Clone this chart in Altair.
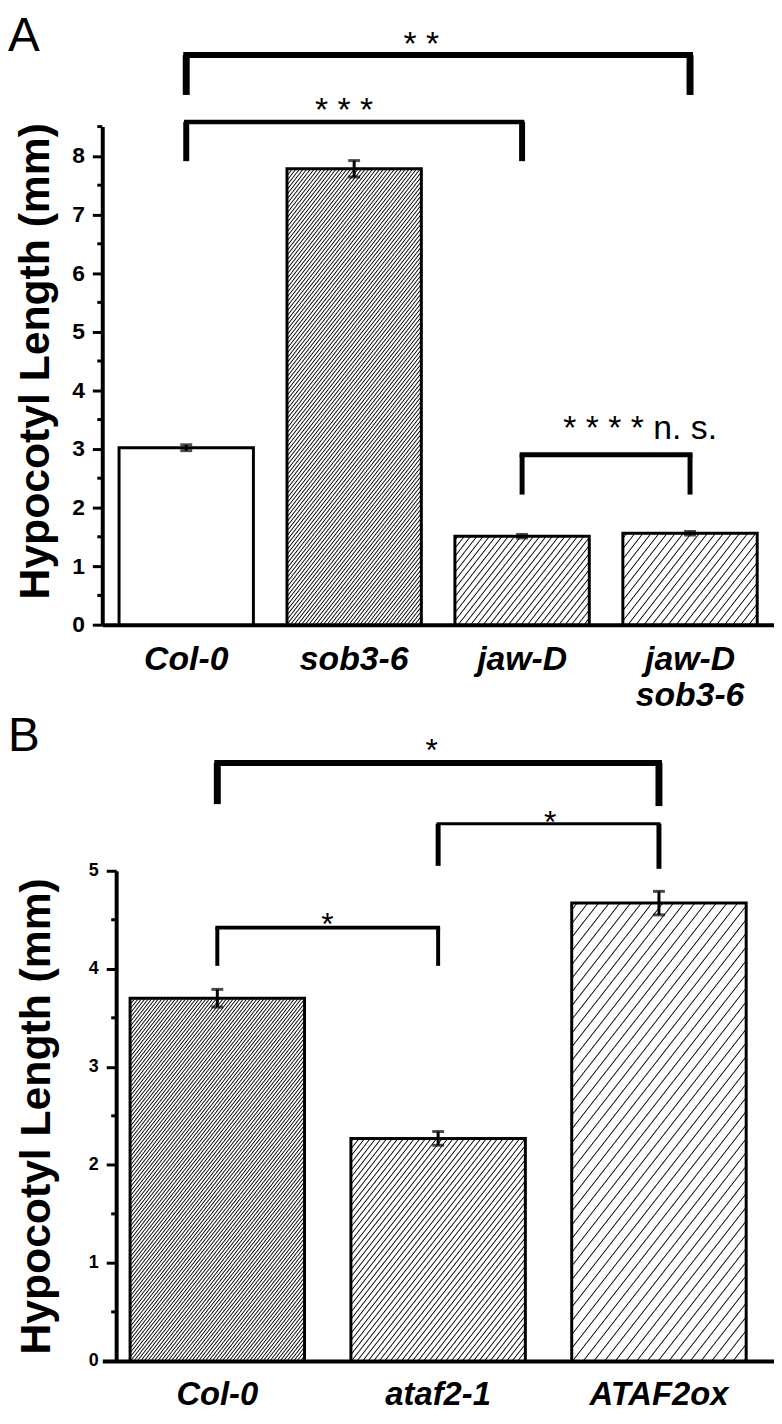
import math
import altair as alt
import pandas as pd

FONT = "Liberation Sans"

# ---------------- data: panel A ----------------
a_genotypes = ["Col-0", "sob3-6", "jaw-D", "jaw-D|sob3-6"]
a_means = [3.02, 7.78, 1.51, 1.56]
a_errors = [0.05, 0.14, 0.03, 0.03]
a_ticks = [0, 1, 2, 3, 4, 5, 6, 7, 8]
a_minor = [0.5, 1.5, 2.5, 3.5, 4.5, 5.5, 6.5, 7.5, 8.5]

a_br_left = ["Col-0", "Col-0", "jaw-D"]
a_br_right = ["jaw-D|sob3-6", "jaw-D", "jaw-D|sob3-6"]
a_br_level = [9.72, 8.58, 2.90]
a_br_foot_left = [9.04, 7.91, 2.22]
a_br_foot_right = [9.04, 7.91, 2.22]
a_sig_text = ["* *", "* * *", "* * * * n. s."]
a_sig_anchor = ["Col-0", "Col-0", "jaw-D"]
a_sig_y = [9.73, 8.60, 3.17]

# ---------------- data: panel B ----------------
b_genotypes = ["Col-0", "ataf2-1", "ATAF2ox"]
b_means = [3.70, 2.27, 4.67]
b_errors = [0.09, 0.07, 0.12]
b_ticks = [0, 1, 2, 3, 4, 5]
b_minor = [0.5, 1.5, 2.5, 3.5, 4.5]

b_br_left = ["Col-0", "ataf2-1", "Col-0"]
b_br_right = ["ATAF2ox", "ATAF2ox", "ataf2-1"]
b_br_level = [6.10, 5.48, 4.42]
b_br_foot_left = [5.68, 5.05, 4.03]
b_br_foot_right = [5.66, 5.02, 4.03]
b_sig_text = ["*", "*", "*"]
b_sig_anchor = ["Col-0", "ataf2-1", "Col-0"]
b_sig_y = [6.12, 5.39, 4.34]

# ---------------- styles ----------------
A_STYLE = dict(width=677, height=502, ymax=8.5, pin=0.2, pout=0.1,
               hatch=[0, 2.9, 5.0, 6.4], sig_dx=[237, 159, 119], sig_size=34,
               br_w=[6, 4.5, 5], leg_w=[7, 6, 5], tick_font=23, label_font=34,
               label_pad=18, title_x=-54, title_y=236, axis_offset=0,
               letter="A", letter_y=-114)
B_STYLE = dict(width=677, height=494, ymax=5.0, pin=0.21, pout=0.126,
               hatch=[2.7, 4.4, 8.5], sig_dx=[216, 113, 111], sig_size=32,
               br_w=[6, 3, 4], leg_w=[7, 5, 4], tick_font=18, label_font=33,
               label_pad=18, title_x=-67, title_y=247, axis_offset=-14,
               letter="B", letter_y=-159)


def hatch_fill(W, H, period, lw=1.0, angle=52, ink="#1a1a1a"):
    """Diagonal hatch built as a striped linear gradient (bbox units)."""
    if period <= 0:
        return "white"
    a = math.radians(angle)
    sa, ca = math.sin(a), math.cos(a)
    L = W * sa + H * ca
    s = L / (W * W * sa * sa + H * H * ca * ca)
    x2, y2 = s * W * sa, s * H * ca
    stops = [{"offset": 0, "color": "white"}]
    half = lw / 2
    pos = period / 2
    last = 0
    while pos + half + 0.5 < L:
        pts = [(pos - half - 0.4, "white"), (pos - half + 0.4, ink),
               (pos + half - 0.4, ink), (pos + half + 0.4, "white")]
        for p, c in pts:
            o = round(max(p / L, last), 5)
            stops.append({"offset": o, "color": c})
            last = o
        pos += period
    stops.append({"offset": 1, "color": "white"})
    return {"gradient": "linear", "x1": 0, "y1": 0, "x2": round(x2, 5),
            "y2": round(y2, 5), "stops": stops}


def panel(genos, means, errs, ticks, minor, brl, brr, brlev, bfl, bfr,
          stext, sanchor, sy, st):
    n = len(genos)
    step = st["width"] / (n - st["pin"] + 2 * st["pout"])
    bw = step * (1 - st["pin"])
    pxu = st["height"] / st["ymax"]
    ax0 = -st["axis_offset"]

    xscale = alt.Scale(domain=genos, paddingInner=st["pin"], paddingOuter=st["pout"])
    yscale = alt.Scale(domain=[0, st["ymax"]], nice=False, zero=True)

    df = pd.DataFrame({"g": genos, "mean": means, "err": errs})
    df["lo"] = df["mean"] - df["err"]
    df["hi"] = df["mean"] + df["err"]

    xaxis = alt.Axis(title=None, ticks=False, domainWidth=4, domainColor="black",
                     labelFont=FONT, labelFontSize=st["label_font"],
                     labelFontWeight="bold", labelFontStyle="italic",
                     labelColor="black", labelAngle=0,
                     labelPadding=st["label_pad"], labelLineHeight=36,
                     labelExpr="split(datum.label, '|')")
    yaxis = alt.Axis(values=ticks, title="Hypocotyl Length (mm)",
                     labelOverlap=False, labelFlush=False,
                     labelFont=FONT, labelFontSize=st["tick_font"],
                     labelFontWeight="bold", labelColor="black", labelPadding=8,
                     tickSize=10, tickWidth=3, tickColor="black", domainWidth=4,
                     domainColor="black", grid=False, offset=st["axis_offset"],
                     titleFont=FONT, titleFontSize=43, titleFontWeight="bold",
                     titleColor="black", titleX=st["title_x"], titleY=st["title_y"],
                     titleBaseline="alphabetic", titleAlign="center")

    X = lambda f: alt.X(f, scale=xscale, sort=genos, axis=xaxis)
    Y = lambda f: alt.Y(f, scale=yscale, axis=yaxis)

    layers = []
    for i, g in enumerate(genos):
        H = means[i] * pxu
        fill = hatch_fill(bw, H, st["hatch"][i])
        layers.append(alt.Chart(df).transform_filter(alt.datum.g == g)
                      .mark_bar(fill=fill, stroke="black", strokeWidth=3)
                      .encode(x=X("g:N"), y=Y("mean:Q")))

    # minor y ticks
    mdf = pd.DataFrame({"m": minor})
    layers.append(alt.Chart(mdf).mark_rule(color="black", strokeWidth=3).encode(
        x=alt.value(ax0 - 5), x2=alt.value(ax0), y=Y("m:Q")))

    # error bars
    layers.append(alt.Chart(df).mark_rule(color="black", strokeWidth=3).encode(
        x=X("g:N"), y=Y("lo:Q"), y2="hi:Q"))
    for col in ["lo", "hi"]:
        layers.append(alt.Chart(df).mark_tick(color="black", thickness=3, size=12).encode(
            x=X("g:N"), y=Y(f"{col}:Q")))

    # significance brackets
    hdf = pd.DataFrame({"g": brl, "r": brr, "lev": brlev, "w": st["br_w"]})
    layers.append(alt.Chart(hdf).mark_rule(color="black", strokeCap="square").encode(
        x=X("g:N"), x2="r:N", y=Y("lev:Q"),
        strokeWidth=alt.StrokeWidth("w:Q", scale=None)))
    legs = pd.DataFrame({
        "g": list(brl) + list(brr),
        "lev": list(brlev) + list(brlev),
        "foot": list(bfl) + list(bfr),
        "w": list(st["leg_w"]) * 2,
    })
    layers.append(alt.Chart(legs).mark_rule(color="black").encode(
        x=X("g:N"), y=Y("lev:Q"), y2="foot:Q",
        strokeWidth=alt.StrokeWidth("w:Q", scale=None)))
    for i, t in enumerate(stext):
        tdf = pd.DataFrame({"t": [t], "g": [sanchor[i]], "mean": [sy[i]]})
        layers.append(alt.Chart(tdf).mark_text(
            font=FONT, fontSize=st["sig_size"], color="black", align="center",
            baseline="alphabetic", dx=st["sig_dx"][i]).encode(
            x=X("g:N"), y=Y("mean:Q"), text="t:N"))

    # panel letter
    ldf = pd.DataFrame({"t": [st["letter"]]})
    layers.append(alt.Chart(ldf).mark_text(
        font=FONT, fontSize=48, color="black", align="left", baseline="top").encode(
        x=alt.value(-95), y=alt.value(st["letter_y"]), text="t:N"))

    return alt.layer(*layers).properties(width=st["width"], height=st["height"])


chart_a = panel(a_genotypes, a_means, a_errors, a_ticks, a_minor, a_br_left,
                a_br_right, a_br_level, a_br_foot_left, a_br_foot_right,
                a_sig_text, a_sig_anchor, a_sig_y, A_STYLE)
chart_b = panel(b_genotypes, b_means, b_errors, b_ticks, b_minor, b_br_left,
                b_br_right, b_br_level, b_br_foot_left, b_br_foot_right,
                b_sig_text, b_sig_anchor, b_sig_y, B_STYLE)

chart = alt.vconcat(chart_a, chart_b, spacing=248, bounds="flush").properties(
    padding=0).configure_view(stroke=None).resolve_scale(x="independent", y="independent")

chart.save("out.html", embed_options={"renderer": "svg", "actions": False})
